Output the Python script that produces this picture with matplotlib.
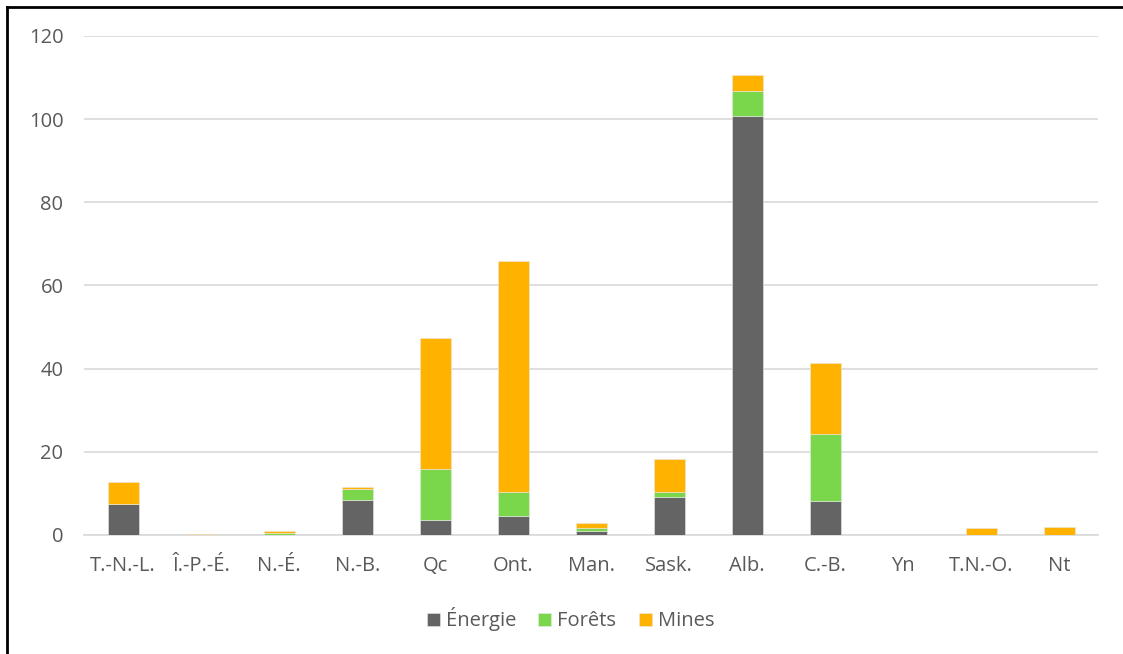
import matplotlib.pyplot as plt
from matplotlib.lines import Line2D
import numpy as np

provinces = ["T.-N.-L.", "Î.-P.-É.", "N.-É.", "N.-B.", "Qc", "Ont.", "Man.",
             "Sask.", "Alb.", "C.-B.", "Yn", "T.N.-O.", "Nt"]
energie = [7.5, 0.0, 0.1, 8.4, 3.6, 4.5, 1.0, 9.2, 100.8, 8.2, 0.0, 0.0, 0.0]
forets = [0.0, 0.1, 0.4, 2.6, 12.3, 5.8, 0.6, 1.1, 6.0, 16.1, 0.05, 0.0, 0.0]
mines = [5.3, 0.1, 0.5, 0.5, 31.5, 55.6, 1.3, 8.0, 3.8, 17.1, 0.05, 1.6, 1.8]
series = ["Énergie", "Forêts", "Mines"]
colors = ["#646464", "#7AD74C", "#FFB200"]

plt.rcParams["font.family"] = ["Open Sans", "DejaVu Sans"]

fig = plt.figure(figsize=(11.23, 6.54), dpi=100)
ax = fig.add_axes([0.075, 0.182, 0.903, 0.763])

x = np.arange(len(provinces))
bottom = np.zeros(len(provinces))
for name, vals, col in zip(series, [energie, forets, mines], colors):
    vals = np.array(vals)
    ax.bar(x, vals, 0.4, bottom=bottom, color=col, label=name,
           edgecolor="#e8e8e8", linewidth=0.4, zorder=3)
    bottom += vals

ax.set_xlim(-0.5, len(provinces) - 0.5)
ax.set_ylim(0, 120)
ax.set_yticks(range(0, 121, 20))
ax.set_xticks(x)
ax.set_xticklabels(provinces)
ax.grid(axis="y", color="#D9D9D9", linewidth=1.2, zorder=0)
for s in ["top", "right", "left"]:
    ax.spines[s].set_visible(False)
ax.spines["bottom"].set_color("#D9D9D9")
ax.spines["bottom"].set_linewidth(1.2)
ax.tick_params(length=0, labelsize=14.5, colors="#595959")
ax.tick_params(axis="x", pad=15)
ax.tick_params(axis="y", pad=15)

fig.legend(loc="center", bbox_to_anchor=(0.508, 0.053), ncol=3, frameon=False,
           fontsize=14.5, labelcolor="#595959", handlelength=0.65, handleheight=0.65,
           handletextpad=0.3, columnspacing=1.1)

# image frame (top and left edge)
fig.add_artist(Line2D([0.0065, 1.0], [0.989, 0.989], color="black", linewidth=2,
                      transform=fig.transFigure))
fig.add_artist(Line2D([0.0065, 0.0065], [0.0, 0.989], color="black", linewidth=2,
                      transform=fig.transFigure))

fig.savefig("out.png")
